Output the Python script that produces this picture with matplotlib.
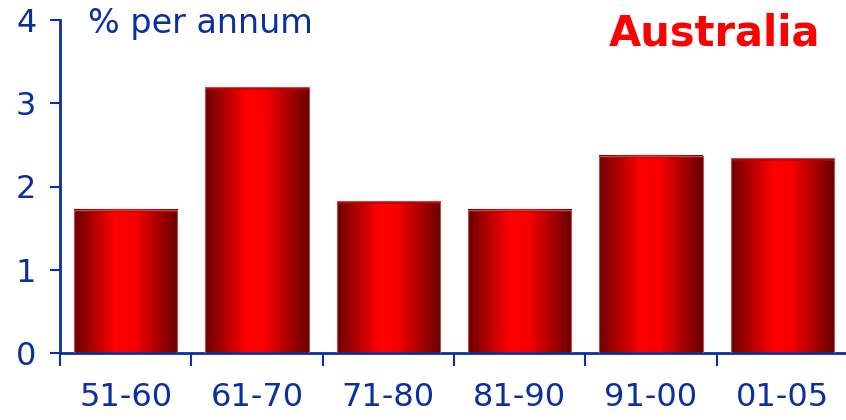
import matplotlib.pyplot as plt
import numpy as np
from matplotlib.colors import LinearSegmentedColormap

periods = ['51-60', '61-70', '71-80', '81-90', '91-00', '01-05']
growth = [1.72, 3.19, 1.82, 1.72, 2.37, 2.34]

BLUE = '#0a2fa0'
RED = '#ff0000'

# Horizontal shading: dark maroon at the edges, bright red just left of centre
shade = LinearSegmentedColormap.from_list(
    'barshade', [(0.0, '#6c0000'), (0.40, '#ff0000'), (0.58, '#f80000'), (1.0, '#680000')])


def main():
    fig = plt.figure(figsize=(8.46, 4.20), dpi=100)
    ax = fig.add_axes([60 / 846, 67 / 420, 788 / 846, 333 / 420])

    x = np.arange(len(periods))
    bars = ax.bar(x, growth, width=0.785, color='none', edgecolor='#b85050',
                  linewidth=0.8, zorder=3)

    grad = np.linspace(0, 1, 256).reshape(1, -1)
    for b in bars:
        x0, w, h = b.get_x(), b.get_width(), b.get_height()
        ax.imshow(grad, cmap=shade, aspect='auto', interpolation='bicubic',
                  extent=(x0, x0 + w, 0, h), zorder=2)
        # thin darker band along the top edge
        ax.plot([x0, x0 + w], [h - 0.02, h - 0.02], color='#c00000',
                linewidth=1.2, zorder=2.5, solid_capstyle='butt')

    ax.set_xlim(-0.5, 5.5)
    ax.set_ylim(0, 4)

    for s in ('top', 'right'):
        ax.spines[s].set_visible(False)
    for s in ('left', 'bottom'):
        ax.spines[s].set_color(BLUE)
        ax.spines[s].set_linewidth(2)

    ax.set_yticks([0, 1, 2, 3, 4])
    ax.tick_params(axis='y', colors=BLUE, labelsize=23, length=7, width=1.5,
                   direction='out', pad=10)

    # category labels centred, ticks sitting between the categories
    ax.set_xticks(x)
    ax.set_xticklabels(periods)
    ax.tick_params(axis='x', which='major', length=0, labelsize=23,
                   labelcolor=BLUE, pad=21)
    ax.set_xticks(np.arange(-0.5, 6.0, 1.0), minor=True)
    ax.tick_params(axis='x', which='minor', length=9, width=1.5, color=BLUE,
                   direction='out')

    ax.text(0.035, 0.99, '% per annum', transform=ax.transAxes, fontsize=24,
            color=BLUE, ha='left', va='center')
    ax.text(0.965, 0.96, 'Australia', transform=ax.transAxes, fontsize=30,
            fontweight='bold', color=RED, ha='right', va='center')

    fig.savefig('out.png', dpi=100)


if __name__ == '__main__':
    main()
